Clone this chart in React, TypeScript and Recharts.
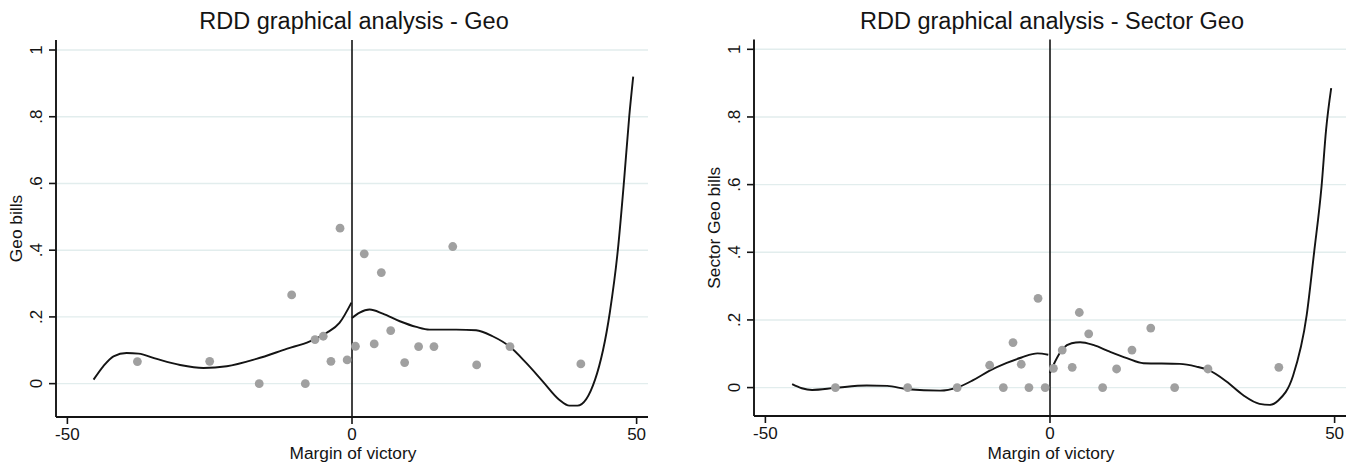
import React from "react";
import { ComposedChart, XAxis, YAxis, CartesianGrid, Line, Scatter, ReferenceLine } from "recharts";

// Bin positions (margin of victory)
const binX = [-37.7, -25, -16.3, -10.6, -8.2, -6.5, -5.05, -3.7, -2.1, -0.85, 0.6, 2.15, 3.9, 5.15, 6.8, 9.25, 11.7, 14.4, 17.7, 21.9, 27.75, 40.2];
// Bin means
const geoY = [0.066, 0.067, 0, 0.266, 0, 0.132, 0.142, 0.067, 0.466, 0.071, 0.112, 0.389, 0.119, 0.333, 0.159, 0.063, 0.111, 0.111, 0.411, 0.056, 0.111, 0.059];
const sectorGeoY = [0, 0, 0, 0.066, 0, 0.133, 0.069, 0, 0.264, 0, 0.057, 0.111, 0.06, 0.222, 0.159, 0, 0.055, 0.111, 0.176, 0, 0.055, 0.06];

// Fitted curve, Geo, left of cutoff
const geoLeftX = [-45.4, -43.7, -41.9, -39.6, -37.5, -34.3, -30.2, -26.1, -22, -16.8, -11.5, -7.4, -4.5, -2.2, -0.1];
const geoLeftY = [0.012, 0.052, 0.082, 0.092, 0.09, 0.074, 0.056, 0.047, 0.052, 0.074, 0.104, 0.127, 0.152, 0.182, 0.243];
// Fitted curve, Geo, right of cutoff
const geoRightX = [0, 1.35, 3.1, 5.4, 8.4, 11.3, 13.6, 18.3, 21.8, 24.7, 27.7, 30.6, 33.5, 36.4, 38.2, 39.6, 42.7, 45.3, 46.7, 47.8, 48.7, 49.4];
const geoRightY = [0.197, 0.213, 0.222, 0.21, 0.187, 0.17, 0.162, 0.162, 0.16, 0.142, 0.111, 0.062, 0.007, -0.048, -0.066, -0.066, 0.012, 0.214, 0.4, 0.61, 0.8, 0.92];

// Fitted curve, Sector Geo, left of cutoff
const secLeftX = [-45.3, -43.6, -41.8, -37.7, -32.2, -28.6, -25, -19.3, -16.3, -13.5, -10.6, -7.6, -5, -2.2, -0.3];
const secLeftY = [0.01, -0.002, -0.007, -0.001, 0.006, 0.005, -0.005, -0.009, 0, 0.022, 0.05, 0.073, 0.089, 0.101, 0.097];
// Fitted curve, Sector Geo, right of cutoff
const secRightX = [0, 0.9, 2.3, 3.8, 5.3, 7.6, 10.5, 13.5, 16.4, 22.8, 25.7, 27.8, 31, 33.9, 36.8, 38.6, 40.1, 42.7, 45.1, 46.4, 47.7, 48.5, 49.4];
const secRightY = [0.043, 0.077, 0.116, 0.131, 0.134, 0.126, 0.106, 0.087, 0.072, 0.07, 0.062, 0.052, 0.018, -0.022, -0.048, -0.051, -0.038, 0.035, 0.215, 0.4, 0.594, 0.762, 0.885];

const xTicks = [-50, 0, 50];
const yTicks = [0, 0.2, 0.4, 0.6, 0.8, 1];

const FONT = "'Liberation Sans', Arial, Helvetica, sans-serif";
const INK = "#141414";

const zip = (xs: number[], ys: number[]) => xs.map((x, i) => ({ x, y: ys[i] }));

const fmtY = (v: number) => (v === 0 ? "0" : v === 1 ? "1" : String(Number(v.toFixed(1))).replace(/^0\./, "."));

const YTick = (props: any) => {
  const { x, y, payload } = props;
  const bx = x - 7.5;
  return (
    <text
      transform={`translate(${bx},${y}) rotate(-90)`}
      textAnchor="middle"
      fontSize={17}
      fontFamily={FONT}
      fill={INK}
    >
      {fmtY(payload.value)}
    </text>
  );
};

const Dot = (props: any) => <circle cx={props.cx} cy={props.cy} r={4.4} fill="#a0a0a0" />;

type PanelProps = {
  left: number;
  plot: { top: number; right: number; bottom: number; left: number };
  yDomain: [number, number];
  points: { x: number; y: number }[];
  curveL: { x: number; y: number }[];
  curveR: { x: number; y: number }[];
  title: string;
  yLabel: string;
};

const Panel = ({ left, plot, yDomain, points, curveL, curveR, title, yLabel }: PanelProps) => {
  const plotL = plot.left;
  const plotR = 680 - plot.right;
  const plotT = plot.top;
  const plotB = 469 - plot.bottom;
  const cx = (plotL + plotR) / 2;
  const cy = (plotT + plotB) / 2;
  return (
    <div style={{ position: "absolute", left, top: 0, width: 680, height: 469 }}>
      <ComposedChart width={680} height={469} margin={{ top: plot.top, right: plot.right, bottom: 0, left: 0 }}>
        <CartesianGrid vertical={false} horizontalValues={yTicks} stroke="#e2eded" strokeWidth={1.4} />
        <XAxis
          type="number"
          dataKey="x"
          domain={[-52, 52]}
          ticks={xTicks}
          allowDataOverflow
          height={plot.bottom}
          tickSize={7}
          tickMargin={4}
          axisLine={{ stroke: INK, strokeWidth: 1.9 }}
          tickLine={{ stroke: INK, strokeWidth: 1.6 }}
          tick={{ fill: INK, fontSize: 17, fontFamily: FONT }}
        />
        <YAxis
          type="number"
          dataKey="y"
          domain={yDomain}
          ticks={yTicks}
          allowDataOverflow
          width={plot.left}
          tickSize={7}
          tickMargin={0}
          axisLine={{ stroke: INK, strokeWidth: 1.9 }}
          tickLine={{ stroke: INK, strokeWidth: 1.6 }}
          tick={<YTick />}
        />
        <ReferenceLine x={0} stroke={INK} strokeWidth={1.6} />
        <Scatter data={points} dataKey="y" shape={<Dot />} isAnimationActive={false} />
        <Line data={curveL} dataKey="y" type="monotone" stroke={INK} strokeWidth={1.9} dot={false} isAnimationActive={false} />
        <Line data={curveR} dataKey="y" type="monotone" stroke={INK} strokeWidth={1.9} dot={false} isAnimationActive={false} />
      </ComposedChart>
      <svg width={680} height={469} style={{ position: "absolute", left: 0, top: 0, pointerEvents: "none" }}>
        <text x={cx + 2} y={29} textAnchor="middle" fontSize={23.5} fontFamily={FONT} fill={INK}>
          {title}
        </text>
        <text x={cx + 1} y={459} textAnchor="middle" fontSize={17.3} fontFamily={FONT} fill={INK}>
          Margin of victory
        </text>
        <text
          transform={`translate(${plotL - 34},${cy}) rotate(-90)`}
          textAnchor="middle"
          fontSize={17.3}
          fontFamily={FONT}
          fill={INK}
        >
          {yLabel}
        </text>
      </svg>
    </div>
  );
};

export default function App() {
  return (
    <div style={{ position: "absolute", left: 0, top: 0, width: 1360, height: 469, background: "#fff" }}>
      <Panel
        left={0}
        plot={{ top: 40, right: 32, bottom: 52, left: 56 }}
        yDomain={[-0.1, 1.03]}
        points={zip(binX, geoY)}
        curveL={zip(geoLeftX, geoLeftY)}
        curveR={zip(geoRightX, geoRightY)}
        title="RDD graphical analysis - Geo"
        yLabel="Geo bills"
      />
      <Panel
        left={680}
        plot={{ top: 39.5, right: 14, bottom: 53, left: 74 }}
        yDomain={[-0.084, 1.029]}
        points={zip(binX, sectorGeoY)}
        curveL={zip(secLeftX, secLeftY)}
        curveR={zip(secRightX, secRightY)}
        title="RDD graphical analysis - Sector Geo"
        yLabel="Sector Geo bills"
      />
    </div>
  );
}
